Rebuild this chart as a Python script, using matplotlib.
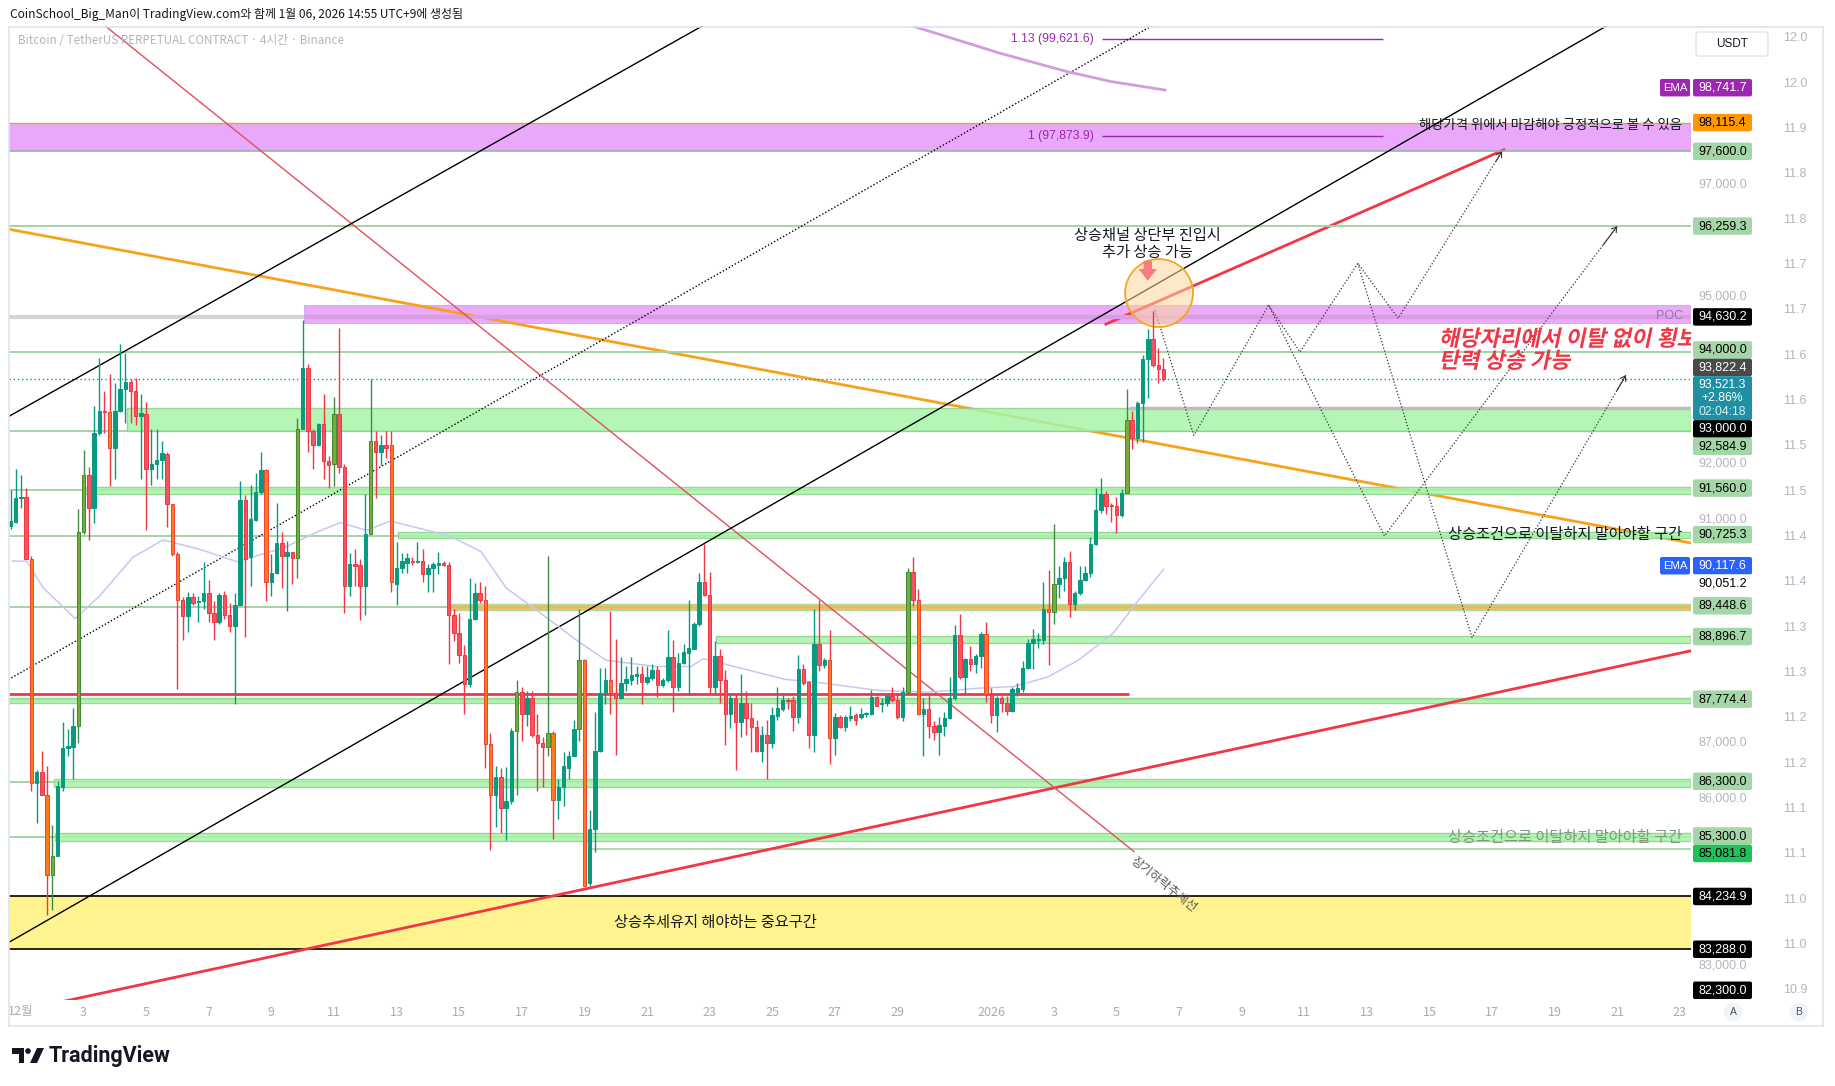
import numpy as np
import pandas as pd
import matplotlib
matplotlib.use('Agg')
import matplotlib.pyplot as plt
from matplotlib.patches import Rectangle, FancyBboxPatch, Ellipse, PathPatch, Circle, Polygon
from matplotlib.lines import Line2D
from matplotlib.textpath import TextPath
from matplotlib.font_manager import FontProperties
from matplotlib.transforms import Affine2D, IdentityTransform, blended_transform_factory

plt.rcParams['font.family'] = ['Noto Sans CJK KR', 'DejaVu Sans']
NUMF = ['Liberation Sans', 'DejaVu Sans']

W, H = 1835, 1086

# ---- 4시간봉 데이터 (2025-11-30 16:00 부터) ----
opens = [90880, 90950, 91380, 91400, 90280, 86270, 86470, 86060, 84620, 84960,
         86200, 86900, 86920, 87300, 90770, 91800, 91210, 92550, 92940, 92930,
         92280, 92950, 93340, 93460, 93300, 92860, 92890, 91900, 92000, 92060,
         92170, 91270, 90370, 89560, 89260, 89600, 89510, 89530, 89670, 89320,
         89150, 89650, 89290, 89080, 89460, 91350, 90320, 90990, 91490, 91880,
         89870, 90030, 90580, 90350, 90420, 90300, 92620, 93720, 92580, 92340,
         92710, 92050, 92000, 92890, 91930, 89800, 90200, 90180, 89800, 90730,
         92410, 92210, 92340, 92340, 89840, 90130, 90220, 90260, 90240, 90260,
         90020, 90130, 90180, 90220, 90180, 89290, 88960, 88570, 88050, 89220,
         89680, 89560, 86970, 86060, 86370, 85820, 85940, 87200, 87900, 87500,
         87790, 87130, 86990, 86920, 87160, 85960, 86200, 86540, 86750, 87230,
         88470, 84480, 85440, 86850, 87880, 88120, 87880, 87790, 88070, 88120,
         88190, 88220, 88090, 88160, 88290, 88020, 88120, 88530, 87990, 88430,
         88600, 88670, 89120, 89870, 89650, 87990, 88550, 88110, 87500, 87790,
         87370, 87710, 87440, 87280, 86850, 87130, 86990, 87470, 87600, 87760,
         87760, 87450, 88310, 88080, 87140, 88770, 88380, 88480, 87070, 87450,
         87280, 87440, 87490, 87450, 87500, 87510, 87810, 87690, 87710, 87830,
         87760, 87450, 87900, 90050, 89550, 87510, 87600, 87300, 87180, 87300,
         87440, 87800, 88930, 88170, 88500, 88400, 88550, 88950, 87860, 87490,
         87800, 87700, 87560, 87900, 87950, 88330, 88790, 88840, 88840, 89390,
         89340, 89840, 89940, 90230, 89480, 89680, 89910, 90030, 90550, 91170,
         91450, 91240, 91230, 91080, 91470, 92790, 92460, 93080, 93870, 94230,
         93770, 93700]
highs = [91520, 91900, 91800, 91560, 90350, 86510, 86850, 86580, 85510, 86300,
         87370, 87230, 87610, 91180, 92240, 91930, 93030, 93890, 93300, 93610,
         93440, 94150, 93990, 93510, 93540, 93240, 93100, 92620, 92620, 92410,
         92210, 91280, 90420, 89600, 89700, 89670, 89630, 90240, 89910, 89530,
         89670, 89720, 89500, 89670, 91690, 91430, 91620, 91830, 92210, 91900,
         90370, 91290, 90770, 90610, 90420, 92820, 94580, 93790, 92620, 92720,
         93240, 92140, 93200, 94440, 92000, 90390, 90460, 90290, 91450, 93510,
         92580, 92520, 92580, 92580, 90590, 90390, 90400, 90330, 90590, 90460,
         90200, 90240, 90420, 90250, 90240, 89390, 89320, 88740, 89940, 89850,
         89870, 89800, 87160, 86580, 86540, 86560, 87260, 88120, 87990, 87920,
         87920, 87500, 87090, 90350, 87200, 86340, 86820, 86850, 87400, 89390,
         88500, 85790, 87540, 88330, 88330, 89360, 88860, 88530, 88360, 88530,
         88360, 88360, 88360, 88400, 88360, 88160, 89010, 88840, 88600, 88770,
         89560, 89150, 90040, 90560, 90060, 88810, 88670, 88290, 87850, 87880,
         88230, 87920, 87710, 87400, 87300, 87400, 87640, 88000, 87880, 87800,
         87830, 88560, 88410, 88100, 89390, 89550, 88520, 89020, 87520, 87490,
         87490, 87660, 87520, 87620, 87550, 87930, 87830, 87800, 87860, 88000,
         87860, 88000, 90130, 90330, 89750, 87800, 87860, 87380, 87450, 87550,
         88170, 89100, 89310, 88520, 88720, 88580, 88980, 89150, 87970, 87830,
         87830, 87830, 88000, 88070, 88450, 88860, 89040, 88960, 89870, 90090,
         90920, 90160, 90330, 90440, 89720, 90160, 90160, 90680, 91570, 91740,
         91500, 91300, 91400, 91540, 93340, 92940, 93120, 93940, 94420, 94730,
         94080, 93900]
lows = [90830, 90940, 91210, 90280, 86130, 85550, 86060, 83900, 84000, 84960,
        86130, 86750, 86340, 86990, 90730, 90630, 90940, 92520, 92550, 91590,
        91730, 92930, 92720, 92720, 92690, 91730, 90800, 91620, 91730, 91730,
        90870, 90350, 87950, 88840, 88980, 89460, 89150, 89390, 89150, 88840,
        89120, 89220, 88980, 87680, 89460, 88880, 89800, 90970, 91450, 89530,
        89630, 90010, 89770, 89360, 89840, 89940, 92620, 92210, 91900, 92310,
        91730, 91560, 91590, 91830, 89320, 89630, 89800, 89190, 89290, 90730,
        91380, 91970, 92100, 89700, 89460, 90040, 90040, 90180, 90220, 89870,
        89700, 89700, 90010, 90170, 88400, 88810, 88430, 87500, 87990, 89190,
        89500, 86540, 85070, 85480, 85380, 85240, 85890, 86060, 87020, 87300,
        87090, 86130, 86200, 86750, 85270, 85620, 85860, 86340, 86750, 87020,
        84420, 84420, 85030, 86820, 87680, 87500, 86780, 87780, 87920, 88020,
        88050, 87680, 88050, 88120, 87810, 87990, 88090, 87540, 87920, 88400,
        87850, 88670, 89080, 89630, 87880, 87880, 87710, 86960, 87260, 86510,
        87090, 87130, 86820, 86820, 86650, 86340, 86890, 87400, 87570, 87590,
        87210, 87350, 88030, 86900, 86830, 88280, 88340, 86610, 86770, 87250,
        87210, 87380, 87310, 87420, 87450, 87490, 87660, 87550, 87660, 87730,
        87420, 87380, 87860, 89440, 87490, 86750, 87070, 87040, 86780, 87110,
        87420, 87760, 88140, 87860, 88280, 88240, 88340, 87730, 87350, 87180,
        87550, 87490, 87550, 87830, 87900, 88310, 88310, 88690, 88760, 88380,
        89130, 89580, 89720, 89240, 89370, 89650, 89890, 89960, 90540, 91120,
        91090, 90950, 90760, 91050, 91470, 92260, 92360, 92390, 93180, 93730,
        93440, 93480]
closes = [90970, 91380, 91400, 90280, 86270, 86470, 86060, 84620, 84960, 86210,
          86900, 86940, 87300, 90770, 91800, 91210, 92550, 92940, 92930, 92280,
          92950, 93340, 93460, 93300, 92860, 92910, 91900, 92000, 92060, 92190,
          91280, 90370, 89560, 89260, 89600, 89500, 89540, 89670, 89320, 89150,
          89650, 89290, 89080, 89460, 91350, 90280, 91000, 91490, 91880, 89870,
          90030, 90580, 90350, 90420, 90300, 92620, 93720, 92580, 92340, 92710,
          92050, 91980, 92890, 91930, 89800, 90200, 90170, 89800, 90730, 92410,
          92210, 92340, 92280, 89870, 90130, 90260, 90300, 90240, 90260, 90020,
          90130, 90200, 90210, 90180, 89290, 88960, 88570, 88050, 89220, 89680,
          89560, 86970, 86060, 86370, 85820, 85940, 87200, 87900, 87500, 87790,
          87130, 86990, 86920, 87160, 85960, 86200, 86580, 86760, 87230, 88470,
          84420, 85440, 86850, 87880, 88120, 87880, 87790, 88070, 88140, 88200,
          88220, 88090, 88180, 88290, 88020, 88120, 88530, 87990, 88430, 88620,
          88690, 89120, 89870, 89650, 87990, 88550, 88110, 87500, 87790, 87370,
          87710, 87440, 87280, 86850, 87130, 86990, 87490, 87610, 87760, 87740,
          87450, 88310, 88070, 87140, 88770, 88380, 88480, 87070, 87450, 87280,
          87450, 87470, 87400, 87510, 87520, 87810, 87660, 87710, 87830, 87760,
          87450, 87900, 90050, 89550, 87510, 87600, 87300, 87180, 87310, 87440,
          87800, 88930, 88170, 88500, 88400, 88550, 88950, 87860, 87490, 87800,
          87700, 87560, 87950, 87970, 88330, 88790, 88860, 88860, 89390, 89340,
          89840, 89940, 90230, 89480, 89680, 89910, 90030, 90550, 91170, 91450,
          91240, 91230, 91080, 91470, 92790, 92460, 93080, 93870, 94230, 93770,
          93700, 93520]
hl_down = [4, 7, 19, 31, 32, 49, 73, 91, 92, 104, 110, 115, 157, 174, 187, 199]
hl_up = [8, 13, 14, 55, 62, 69, 97, 103, 109, 172, 200, 214]

# EMA 선 (12/1 기준 일수, 가격)
ema_x = [-0.28, 0.18, 0.71, 1.73, 2.52, 3.58, 4.54, 5.72, 6.9, 8.4, 9.45, 10.2, 11.05,
         11.8, 13.7, 14.7, 15.5, 16.5, 17.8, 18.7, 20.3, 21.4, 21.8, 23.0, 24.4, 25.5,
         27.4, 29.0, 30.6, 31.7, 32.8, 33.8, 34.9, 35.75, 36.5]
ema_y = [90250, 90250, 89770, 89220, 89630, 90320, 90630, 90460, 90240, 90490, 90770,
         90940, 90800, 90970, 90700, 90420, 89770, 89360, 88810, 88470, 88360, 88360,
         88500, 88330, 88130, 88070, 87930, 87900, 87970, 88000, 88170, 88480, 88960,
         89580, 90100]
ema_top_x = [28.3, 31.28, 33.42, 34.84, 36.55]
ema_top_y = [99880, 99360, 99030, 98850, 98700]

# 추세선 (일수, 가격)
chan_top = [(-0.5, 92810), (22.5, 100080)]
chan_bot = [(-0.5, 83376), (54.0, 100925)]
chan_mid = [(-0.5, 88093), (38.0, 100451)]
down_trend = [(2.3, 100025), (35.56, 85040)]
orange_trend = [(-0.5, 96215), (53.5, 90560)]
red_low = [(1.0, 82310), (53.5, 88660)]
red_up = [(34.66, 94500), (47.38, 97627)]
path1 = [(36.23, 94750), (37.47, 92505), (39.86, 94840), (40.86, 94000), (42.71, 95590),
         (44.0, 94605), (47.32, 97600)]
path2 = [(39.86, 94840), (43.56, 90700), (51.0, 96259)]
path3 = [(42.71, 95590), (46.36, 88880), (51.28, 93590)]

# 수평 레벨
green_lines = [96259.3, 94000, 92585, 91520, 90700, 89430, 87750, 86290, 85300]
band_lo = [92584.9, 91460, 90660, 88790, 87712, 86190, 85224]
band_hi = [93000.0, 91580, 90780, 88910, 87800, 86340, 85376]
band_start = [3.4, 2.05, 12.05, 22.2, -0.4, 1.05, 1.08]

# 가격 라벨
label_prices = [98741.7, 98115.4, 97600.0, 96259.3, 94630.2, 94000.0, 93822.4, 93521.3,
                93000.0, 92584.9, 91560.0, 90725.3, 90117.6, 90051.2, 89448.6, 88896.7,
                87774.4, 86300.0, 85300.0, 85081.8, 84234.9, 83288.0, 82300.0]
GR = '#a5d6a7'
label_bg = ['#9c27b0', '#ff9800', GR, GR, '#000000', GR, '#4a4a4a', '#1f90a3',
            '#000000', GR, GR, GR, '#2962ff', '#ffffff', GR, GR,
            GR, GR, GR, '#1ec25a', '#000000', '#000000', '#000000']
label_fg = ['white', 'black', 'black', 'black', 'white', 'black', 'white', 'white',
            'white', 'black', 'black', 'black', 'white', 'black', 'black', 'black',
            'black', 'black', 'black', 'black', 'white', 'white', 'white']
label_tag = ['EMA', '', '', '', '', '', '', 'multi', '', '', '', '', 'EMA', '', '', '',
             '', '', '', '', '', '', '']

x_ticks = [0, 2, 4, 6, 8, 10, 12, 14, 16, 18, 20, 22, 24, 26, 28, 31, 33, 35, 37, 39, 41,
           43, 45, 47, 49, 51, 53]
x_tick_labels = ['12월', '3', '5', '7', '9', '11', '13', '15', '17', '19', '21', '23', '25',
                 '27', '29', '2026', '3', '5', '7', '9', '11', '13', '15', '17', '19', '21', '23']

right_vals = [12.00, 11.95, 11.90, 11.85, 11.80, 11.75, 11.70, 11.65, 11.60, 11.55, 11.50,
              11.45, 11.40, 11.35, 11.30, 11.25, 11.20, 11.15, 11.10, 11.05, 11.00, 10.95]
right_labels = ['12.0', '12.0', '11.9', '11.8', '11.8', '11.7', '11.7', '11.6', '11.6', '11.5',
                '11.5', '11.4', '11.4', '11.3', '11.3', '11.2', '11.2', '11.1', '11.1', '11.0',
                '11.0', '10.9']

# ---- 그림 ----
fig = plt.figure(figsize=(W / 100, H / 100), dpi=100)
fig.patch.set_facecolor('white')
ax = fig.add_axes([9 / W, 1 - 1000 / H, 1682 / W, 974 / H])
XMIN, XMAX = -0.383, 53.355
ax.set_xlim(XMIN, XMAX)
ax.set_ylim(82378, 99848)
ax.set_axis_off()
IDT = IdentityTransform()

# 노란 구간
ax.axhspan(83288.0, 84234.9, color='#fff390', lw=0, zorder=1)
ax.axhline(84234.9, color='black', lw=1.2, zorder=2)
ax.axhline(83288.0, color='black', lw=1.2, zorder=2)

# 보라색 구간
ax.axhspan(97600.0, 98115.4, color='#eaa8fa', lw=0, zorder=1)
ax.axhline(98115.4, color='#c9b037', lw=1, zorder=1.2)
ax.axhline(97600.0, color='#8fb8b0', lw=1.2, zorder=1.2)

# POC 구간
ax.add_patch(Rectangle((9.05, 94520), XMAX - 9.05, 330, fc='#eaaaf8', ec='#c9b3e6', lw=0.8, zorder=1))
ax.hlines(94630.2, 9.05, XMAX, color='#d99de6', lw=3, zorder=1.1)
ax.hlines(94630.2, XMIN, 9.05, color='#d4d4d4', lw=3, zorder=1.1)
ax.text(53.1, 94640, 'POC', ha='right', va='center', fontsize=9, color='#8e7aa8',
        family=NUMF, zorder=6)

# 녹색 선 / 구간
for p in green_lines:
    ax.axhline(p, color='#a3d3a3', lw=1.4, zorder=1.2)
for lo, hi, s in zip(band_lo, band_hi, band_start):
    ax.add_patch(Rectangle((s, lo), XMAX - s, hi - lo, fc='#a8f5a8', ec='#8fcf8f', lw=1,
                           alpha=0.85, zorder=1.3))
ax.add_patch(Rectangle((13.7, 89380), XMAX - 13.7, 100, fc='#f2b84b', ec='#a5d6a7', lw=1,
                       alpha=0.9, zorder=1.3))
ax.hlines(85081.8, 18.2, XMAX, color='#a3d3a3', lw=1.2, zorder=1.2)
ax.hlines(87860, XMIN, 35.4, color='#f23645', lw=2, zorder=1.4)
ax.hlines(93000.0, 35.4, XMAX, color='#bdbdbd', lw=2.5, zorder=1.35)
ax.axhline(93521.3, color='#1f90a3', lw=1, ls=(0, (1, 2)), zorder=1.4)

# 피보나치
ax.hlines([99621.6, 97873.9], 34.53, 43.51, color='#9c27b0', lw=1, zorder=2)
ax.text(34.27, 99621.6, '1.13 (99,621.6)', ha='right', va='center', fontsize=8.8,
        color='#9c27b0', family=NUMF)
ax.text(34.27, 97873.9, '1 (97,873.9)', ha='right', va='center', fontsize=8.8,
        color='#9c27b0', family=NUMF)

# 추세선
def seg(pts, **kw):
    xs, ys = zip(*pts)
    ax.plot(xs, ys, **kw)

seg(orange_trend, color='#f7a21b', lw=2, zorder=1.0)
seg(red_up, color='#f23645', lw=2, zorder=1.0)
seg(red_low, color='#f23645', lw=2, zorder=2)
seg(down_trend, color='#e0505c', lw=1, zorder=2)
seg(chan_top, color='black', lw=1, zorder=2)
seg(chan_bot, color='black', lw=1, zorder=2)
seg(chan_mid, color='black', lw=1, ls=(0, (1, 1.5)), zorder=2)

# EMA
ax.plot(ema_x, ema_y, color='#c5c8f3', lw=1.1, zorder=2)
ax.plot(ema_top_x, ema_top_y, color='#d39ddd', lw=2, zorder=2)

# 캔들
times = pd.date_range('2025-11-30 16:00', periods=len(closes), freq='4h')
xd = ((times - pd.Timestamp('2025-12-01')) / pd.Timedelta(days=1)).to_numpy()
o = np.array(opens, float)
c = np.array(closes, float)
hi_ = np.maximum(np.array(highs, float), np.maximum(o, c))
lo_ = np.minimum(np.array(lows, float), np.minimum(o, c))
up = c >= o
body_c = np.where(up, '#089981', '#f7525f').astype(object)
edge_c = np.where(up, '#089981', '#f23645').astype(object)
wick_c = np.where(up, '#089981', '#f23645').astype(object)
for k in hl_down:
    body_c[k] = '#ff7a1a'
    edge_c[k] = '#f0413a'
for k in hl_up:
    body_c[k] = '#78aa3c'
    edge_c[k] = '#3f8a35'
    wick_c[k] = '#3f8a45'
ax.vlines(xd, lo_, hi_, colors=list(wick_c), lw=1, zorder=4)
ax.bar(xd, np.maximum(np.abs(c - o), 20), bottom=np.minimum(o, c), width=0.11,
       color=list(body_c), edgecolor=list(edge_c), linewidth=0.7, zorder=5)

# 예상 경로
for pth in (path1, path2, path3):
    seg(pth, color='#333333', lw=0.9, ls=(0, (1, 1.6)), zorder=3)
    (x0, y0), (x1, y1) = pth[-2], pth[-1]
    ax.annotate('', xy=(x1, y1), xytext=(x1 - 0.06 * (x1 - x0), y1 - 0.06 * (y1 - y0)),
                arrowprops=dict(arrowstyle='->,head_length=0.35,head_width=0.22', lw=0.8,
                                color='#333333', shrinkA=0, shrinkB=0), zorder=3)

# 원 / 화살표 / 주석
ax.add_patch(Ellipse((36.36, 95058), 2.17, 1220, fc=(0.99, 0.84, 0.62, 0.55), ec='#f5a623',
                     lw=1.3, zorder=3.5))
ax.annotate('', xy=(36.0, 95230), xytext=(36.0, 95690),
            arrowprops=dict(arrowstyle='simple,head_width=1.1,head_length=0.7,tail_width=0.5',
                            fc='#f77c80', ec='none', mutation_scale=12), zorder=6)
ax.text(36.0, 95938, '상승채널 상단부 진입시\n추가 상승 가능', ha='center', va='center',
        fontsize=11, linespacing=0.95, color='#131722', zorder=6)
ax.text(53.07, 98073, '해당가격 위에서 마감해야 긍정적으로 볼 수 있음', ha='right', va='center',
        fontsize=9.6, color='#131722', zorder=6)
ax.text(53.07, 90722, '상승조건으로 이탈하지 말아야할 구간', ha='right', va='center',
        fontsize=11, color='#131722', zorder=6)
ax.text(53.07, 85290, '상승조건으로 이탈하지 말아야할 구간', ha='right', va='center',
        fontsize=11, color='#7d9a7d', zorder=6)
ax.text(22.2, 83761, '상승추세유지 해야하는 중요구간', ha='center', va='center',
        fontsize=11, color='#131722', zorder=6)
ax.text(35.62, 84990, '장기하락추세선', ha='left', va='top', rotation=-38.5,
        rotation_mode='anchor', fontsize=9, color='#555555', zorder=6)

# 기울어진 빨간 글씨
fp_bold = FontProperties(family='Noto Sans CJK KR', weight='bold')
for s, p in (('해당자리에서 이탈 없이 횡보', 94110), ('탄력 상승 가능', 93715)):
    xpx, ypx = ax.transData.transform((45.30, p))
    tp = TextPath((0, 0), s, size=22, prop=fp_bold)
    pp = PathPatch(tp, transform=Affine2D().skew_deg(12, 0).translate(xpx, ypx),
                   fc='#f23645', ec='none', zorder=6)
    pp.set_clip_box(ax.bbox)
    pp.set_clip_on(True)
    fig.add_artist(pp)

# x축 라벨
bx = blended_transform_factory(ax.transData, ax.transAxes)
for d, s in zip(x_ticks, x_tick_labels):
    ax.text(d, -12 / 974, s, transform=bx, ha='center', va='center', fontsize=9,
            color='#a7abb5', clip_on=False)

# 색 라벨 (겹침 방지)
yd = np.array([ax.transData.transform((0, p))[1] for p in label_prices])
hts = np.array([44.0 if t == 'multi' else 17.5 for t in label_tag])
cen = yd - np.where(hts > 20, 13.0, 0.0)
order = np.argsort(-cen)
floor = ax.bbox.y0 + 1
for _ in range(300):
    for a, b in zip(order[:-1], order[1:]):
        gap = (cen[a] - hts[a] / 2) - (cen[b] + hts[b] / 2)
        if gap < 0:
            cen[a] -= 0.2 * gap
            cen[b] += 0.8 * gap
    cen = np.maximum(cen, floor + hts / 2)

# 가격축 회색 눈금 (라벨에 가려지는 것은 생략)
by = blended_transform_factory(ax.transAxes, ax.transData)
for p in range(83000, 100000, 1000):
    ty = ax.transData.transform((0, p))[1]
    if np.any(np.abs(cen - ty) < hts / 2 + 6):
        continue
    ax.text((1722.5 - 9) / 1682, p, f'{p:,.1f}', transform=by, ha='center', va='center',
            fontsize=9, color='#b2b5be', family=NUMF, clip_on=False)

for p, bg, fg, tag, cy, hh in zip(label_prices, label_bg, label_fg, label_tag, cen, hts):
    fig.add_artist(FancyBboxPatch((1693, cy - hh / 2), 59, hh,
                                  boxstyle='round,pad=0,rounding_size=2', transform=IDT,
                                  fc=bg, ec='none', zorder=5))
    if tag == 'multi':
        for k, s in enumerate([f'{p:,.1f}', '+2.86%', '02:04:18']):
            fig.text(1722.5, cy + 14 - 14 * k, s, transform=IDT, ha='center', va='center',
                     fontsize=8.8, color=fg if k < 2 else '#d6f1f5', family=NUMF, zorder=6)
    else:
        fig.text(1722.5, cy, f'{p:,.1f}', transform=IDT, ha='center', va='center',
                 fontsize=9, color=fg, family=NUMF, zorder=6)
    if tag == 'EMA':
        fig.add_artist(FancyBboxPatch((1660, cy - hh / 2), 30, hh,
                                      boxstyle='round,pad=0,rounding_size=2', transform=IDT,
                                      fc=bg, ec='none', zorder=5))
        fig.text(1675, cy, 'EMA', transform=IDT, ha='center', va='center', fontsize=8.2,
                 color='white', family=NUMF, zorder=6)

# 두번째 눈금
ax3 = fig.add_axes([1770 / W, 1 - 1000 / H, 50 / W, 974 / H])
ax3.set_ylim(10.9395, 12.0135)
ax3.set_xlim(0, 1)
ax3.set_axis_off()
for v, s in zip(right_vals, right_labels):
    ax3.text(0.5, v, s, ha='center', va='center', fontsize=9, color='#b2b5be', family=NUMF)

# USDT, A, B
fig.add_artist(FancyBboxPatch((1696, H - 56), 72, 24, boxstyle='round,pad=0,rounding_size=3',
                              transform=IDT, fc='white', ec='#e0e3eb', lw=1))
fig.text(1732, H - 44, 'USDT', transform=IDT, ha='center', va='center', fontsize=8.5,
         color='#131722', family=NUMF)
for cx, s in ((1733, 'A'), (1799, 'B')):
    fig.add_artist(Circle((cx, H - 1012), 9.5, transform=IDT, fc='#f0f3fa', ec='none'))
    fig.text(cx, H - 1012, s, transform=IDT, ha='center', va='center', fontsize=7.5,
             color='#50535e', family=NUMF)

# 테두리
for xs, ys in (([9, 1823], [H - 27, H - 27]), ([9, 1823], [H - 1026, H - 1026]),
               ([9, 9], [H - 27, H - 1026]), ([1823, 1823], [H - 27, H - 1026])):
    fig.add_artist(Line2D(xs, ys, transform=IDT, color='#e0e3eb', lw=1.2))

# 헤더
fig.text(10, H - 14, 'CoinSchool_Big_Man이 TradingView.com와 함께 1월 06, 2026 14:55 UTC+9에 생성됨',
         transform=IDT, ha='left', va='center', fontsize=8.6, color='#131722')
fig.text(18, H - 41, 'Bitcoin / TetherUS PERPETUAL CONTRACT · 4시간 · Binance', transform=IDT,
         ha='left', va='center', fontsize=8.4, color='#b2b5be')

# 로고
fig.add_artist(Polygon([(12, H - 1048), (24, H - 1048), (24, H - 1063), (18.5, H - 1063),
                        (18.5, H - 1053.5), (12, H - 1053.5)], closed=True, transform=IDT,
                       fc='#131722', ec='none'))
fig.add_artist(Circle((28, H - 1051), 2.8, transform=IDT, fc='#131722', ec='none'))
fig.add_artist(Polygon([(30, H - 1063), (37, H - 1048), (44, H - 1048), (37, H - 1063)],
                       closed=True, transform=IDT, fc='#131722', ec='none'))
fig.text(49, H - 1056, 'TradingView', transform=IDT, ha='left', va='center', fontsize=15.5,
         fontweight='bold', family=['Roboto', 'DejaVu Sans'], color='#131722')

fig.savefig('out.png', dpi=100)
